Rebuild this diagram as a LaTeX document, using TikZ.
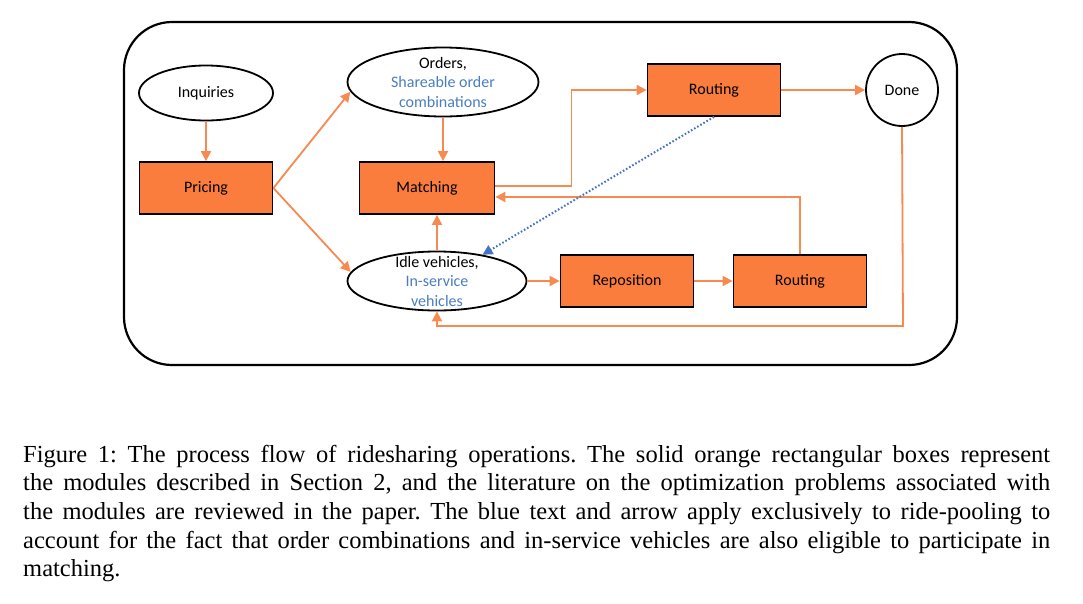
\documentclass[tikz,border=0pt]{standalone}
\usepackage{fontspec}
\setmainfont{Liberation Serif}
\newfontfamily\carl{Carlito}
\usetikzlibrary{arrows.meta,shapes.geometric}
\definecolor{boxfill}{RGB}{250,125,62}
\definecolor{arrcol}{RGB}{246,138,80}
\definecolor{bluetxt}{RGB}{74,124,196}
\definecolor{bluearr}{RGB}{68,114,196}
\tikzset{
  modbox/.style={draw=black,line width=1.8pt,fill=boxfill,minimum width=133pt,minimum height=52pt,inner sep=0pt,font=\carl\fontsize{16}{20}\selectfont},
  oval/.style={draw=black,line width=1.8pt,ellipse,inner sep=0pt},
  lbl/.style={inner sep=0pt,align=center,font=\carl\fontsize{16}{19.5}\selectfont},
  arr/.style={draw=arrcol,line width=1.8pt,-{Triangle[length=10pt,width=10pt]}},
  bluedot/.style={draw=bluearr,line width=2pt,dash pattern=on 1.6pt off 2pt,-{Triangle[length=10pt,width=10pt]}},
  capline/.style={inner sep=0pt,anchor=base west,font=\frenchspacing\fontsize{24.5}{28.7}\selectfont}
}
\begin{document}
\begin{tikzpicture}[x=1pt,y=-1pt]
\useasboundingbox (0,0) rectangle (1083,603);
% outer frame
\draw[line width=2.2pt,rounded corners=48pt] (124,22) rectangle (957,365);
% nodes
\node[oval,minimum width=134pt,minimum height=55pt] (inq) at (206,93) {};
\node[lbl] (inqtext) at (inq.center) {Inquiries};
\node[modbox] (pricing) at (206,188) {Pricing};
\node[oval,minimum width=191pt,minimum height=69pt] (orders) at (443,82) {};
\node[lbl] (orderstext) at (orders.center) {Orders,\\ \textcolor{bluetxt}{Shareable order}\\ \textcolor{bluetxt}{combinations}};
\node[modbox,minimum width=135pt] (matching) at (427,188) {Matching};
\node[modbox] (routing1) at (714,90) {Routing};
\node[draw=black,line width=1.8pt,circle,minimum size=72pt,inner sep=0pt,font=\carl\fontsize{16}{20}\selectfont] (done) at (902,90) {Done};
\node[oval,minimum width=179pt,minimum height=59pt] (idle) at (437,281) {};
\node[lbl] (idletext) at (437,281) {Idle vehicles,\\ \textcolor{bluetxt}{In-service}\\ \textcolor{bluetxt}{vehicles}};
\node[modbox] (repos) at (627,281) {Reposition};
\node[modbox] (routing2) at (800,281) {Routing};
\coordinate (loop) at (903,326);
% connectors
\draw[arr] (inq) -- (pricing);
\draw[arr] (pricing.east) -- (orders.186);
\draw[arr] (pricing.east) -- (idle.174);
\draw[arr] (orders.south) -- (orders.south |- matching.north);
\draw[arr] (idle.north) -- (idle.north |- matching.south);
\draw[arr] ([yshift=2pt]matching.east) -- ++(76,0) |- (routing1.west);
\draw[arr] (routing2.north) |- ([yshift=-9pt]matching.east);
\draw[arr] (routing1.east) -- (done.west);
\draw[arr] (done.south) -- (loop) -| (idle.south);
\draw[arr] (idle.east) -- (repos.west);
\draw[arr] (repos.east) -- (routing2.west);
\draw[bluedot] (routing1.south) -- (idle.30);
% caption
\node[capline] (cap1) at (23,462) {\makebox[1027pt][s]{Figure 1: The process flow of ridesharing operations. The solid orange rectangular boxes represent}};
\node[capline] (cap2) at (23,490.7) {\makebox[1027pt][s]{the modules described in Section 2, and the literature on the optimization problems associated with}};
\node[capline] (cap3) at (23,519.4) {\makebox[1027pt][s]{the modules are reviewed in the paper. The blue text and arrow apply exclusively to ride-pooling to}};
\node[capline] (cap4) at (23,548.1) {\makebox[1027pt][s]{account for the fact that order combinations and in-service vehicles are also eligible to participate in}};
\node[capline] (cap5) at (23,576.8) {matching.};
\end{tikzpicture}
\end{document}
